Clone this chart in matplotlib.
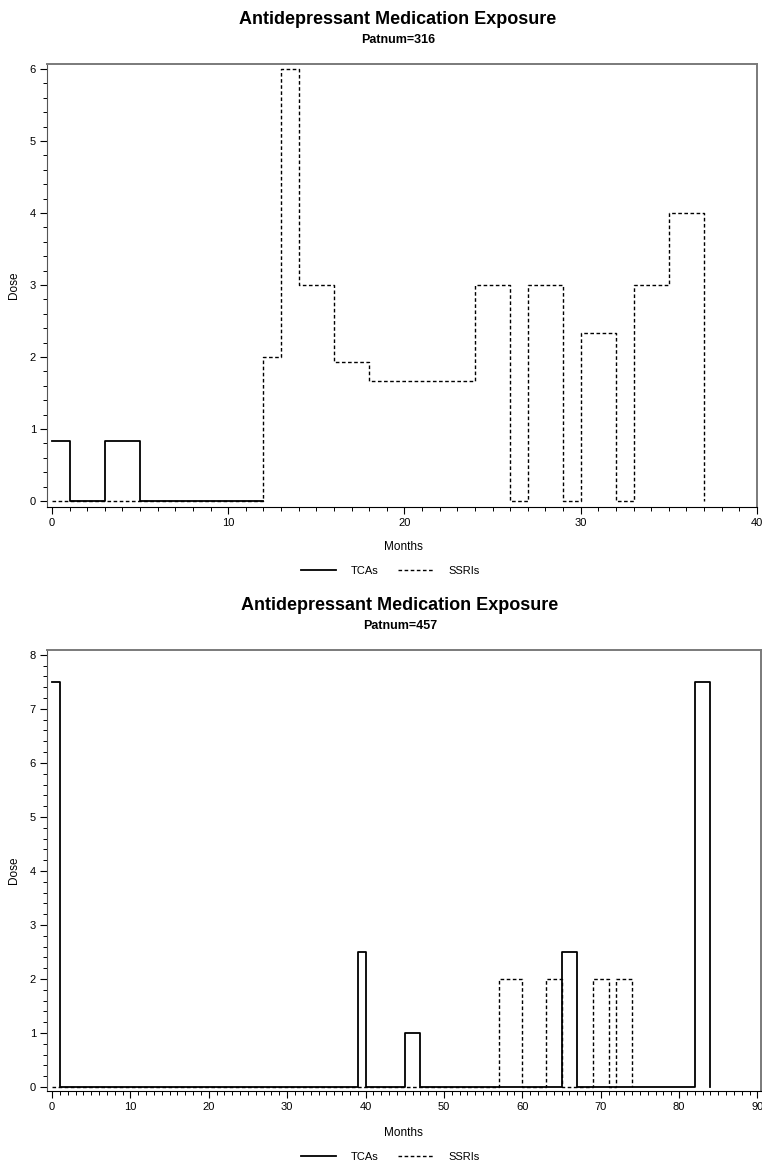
import numpy as np
import matplotlib.pyplot as plt
from matplotlib.ticker import MultipleLocator

plt.rcParams['font.family'] = ['Liberation Sans', 'DejaVu Sans']

# patient 316: step data (dose holds from month until next month)
p316_tca_months = [0, 1, 3, 5, 12]
p316_tca_dose = [0.83, 0, 0.83, 0, 0]
p316_ssri_months = [0, 12, 13, 14, 16, 18, 24, 26, 27, 29, 30, 32, 33, 35, 37]
p316_ssri_dose = [0, 2, 6, 3, 1.93, 1.67, 3, 0, 3, 0, 2.33, 0, 3, 4, 0]

# patient 457
p457_tca_months = [0, 1, 39, 40, 45, 47, 65, 67, 82, 84]
p457_tca_dose = [7.5, 0, 2.5, 0, 1, 0, 2.5, 0, 7.5, 0]
p457_ssri_months = [0, 57, 60, 63, 65, 69, 71, 72, 74]
p457_ssri_dose = [0, 2, 0, 2, 0, 2, 0, 2, 0]

W, H = 762, 1163
fig = plt.figure(figsize=(W / 100, H / 100), dpi=100)
fig.patch.set_facecolor('white')

dash = (0, (2.6, 1.8))


def fy(px):
    return 1 - px / H


def fx(px):
    return px / W


def panel(box, tca_x, tca_y, ssri_x, ssri_y, xlim, ylim, xmajor, ymax,
          patnum, title_px, months_px, legend_px, dose_px):
    l, t, r, b = box
    ax = fig.add_axes([fx(l), fy(b), fx(r - l), (b - t) / H])
    ax.plot(ssri_x, ssri_y, drawstyle='steps-post', color='black', lw=1.0,
            linestyle=dash, label='SSRIs', zorder=2)
    ax.plot(tca_x, tca_y, drawstyle='steps-post', color='black', lw=1.3,
            label='TCAs', zorder=3)
    ax.set_xlim(*xlim)
    ax.set_ylim(*ylim)
    ax.xaxis.set_major_locator(MultipleLocator(xmajor))
    ax.xaxis.set_minor_locator(MultipleLocator(1))
    ax.set_yticks(np.arange(0, ymax + 1, 1))
    ax.yaxis.set_minor_locator(MultipleLocator(0.2))
    ax.tick_params(axis='both', which='major', direction='out', length=5,
                   width=0.8, labelsize=8, pad=3)
    ax.tick_params(axis='both', which='minor', direction='out', length=3,
                   width=0.7)
    ax.spines['top'].set_color('#7a7a7a')
    ax.spines['right'].set_color('#7a7a7a')
    ax.spines['top'].set_linewidth(1.4)
    ax.spines['right'].set_linewidth(1.4)
    ax.spines['left'].set_color('#555555')
    ax.spines['bottom'].set_color('black')

    cx = fx((l + r) / 2 - 4)
    fig.text(cx, fy(title_px), 'Antidepressant Medication Exposure',
             ha='center', va='center', fontsize=13, fontweight='bold')
    fig.text(cx, fy(title_px + 20), 'Patnum=%d' % patnum,
             ha='center', va='center', fontsize=9, fontweight='bold')
    fig.text(fx(403), fy(months_px), 'Months', ha='center', va='center',
             fontsize=8.5)
    fig.text(fx(14), fy(dose_px), 'Dose', ha='center', va='center',
             fontsize=8.5, rotation=90)

    h, lab = ax.get_legend_handles_labels()
    fig.legend(h[::-1], lab[::-1], loc='center',
               bbox_to_anchor=(fx(390), fy(legend_px)), ncol=2,
               frameon=False, fontsize=8, handlelength=3.2,
               handletextpad=1.3, columnspacing=1.8)
    return ax


panel((47, 64, 757, 507), p316_tca_months, p316_tca_dose,
      p316_ssri_months, p316_ssri_dose, (-0.28, 40), (-0.083, 6.07), 10, 6,
      316, 20, 547, 571, 285)

panel((47, 650, 761, 1091), p457_tca_months, p457_tca_dose,
      p457_ssri_months, p457_ssri_dose, (-0.64, 90.45), (-0.074, 8.09), 10, 8,
      457, 606, 1133, 1157, 870)

fig.savefig('out.png', dpi=100)
